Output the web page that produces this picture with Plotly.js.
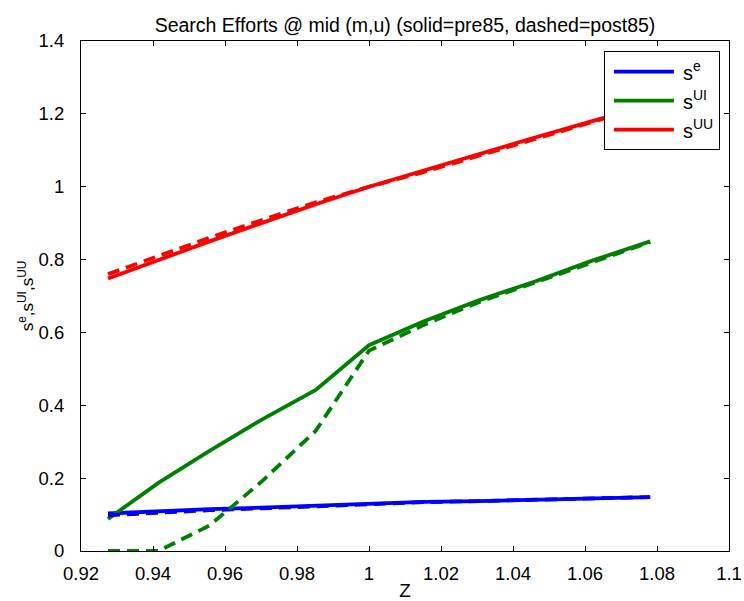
<!DOCTYPE html>
<html>
<head>
<meta charset="utf-8">
<script src="https://cdn.plot.ly/plotly-3.0.1.min.js"></script>
<style>html,body{margin:0;padding:0;background:#fff}#chart{width:744px;height:601px}</style>
</head>
<body>
<div id="chart"></div>
<script>
const z = [0.9275, 0.9415, 0.9557, 0.9701, 0.9852, 1.0, 1.0151, 1.0305, 1.0461, 1.0620, 1.0781];

const sePre   = [0.103, 0.110, 0.115, 0.119, 0.124, 0.131, 0.135, 0.137, 0.140, 0.144, 0.148];
const sePost  = [0.098, 0.106, 0.112, 0.117, 0.123, 0.130, 0.134, 0.137, 0.140, 0.144, 0.148];
const suiPre  = [0.088, 0.187, 0.275, 0.360, 0.442, 0.565, 0.630, 0.688, 0.740, 0.797, 0.850];
const suiPost = [0.000, 0.000, 0.070, 0.190, 0.330, 0.550, 0.620, 0.683, 0.737, 0.793, 0.848];
const suuPre  = [0.748, 0.800, 0.850, 0.900, 0.952, 1.000, 1.045, 1.090, 1.135, 1.180, 1.225];
const suuPost = [0.760, 0.810, 0.860, 0.908, 0.957, 1.000, 1.040, 1.085, 1.130, 1.178, 1.225];

const names = ['s<sup>e</sup>', 's<sup>UI</sup>', 's<sup>UU</sup>'];
const colors = ['#0000ff', '#008000', '#ff0000'];
const xTickText = ['0.92', '0.94', '0.96', '0.98', '1', '1.02', '1.04', '1.06', '1.08', '1.1'];
const yTickText = ['0', '0.2', '0.4', '0.6', '0.8', '1', '1.2', '1.4'];

const pre = [sePre, suiPre, suuPre];
const post = [sePost, suiPost, suuPost];
const traces = [];
for (let i = 0; i < 3; i++) {
  traces.push({x: z, y: pre[i], mode: 'lines', name: names[i],
    line: {color: colors[i], width: 3.8}, showlegend: true, hoverinfo: 'skip'});
}
for (let i = 0; i < 3; i++) {
  traces.push({x: z, y: post[i], mode: 'lines', name: names[i] + ' post',
    line: {color: colors[i], width: 3.8, dash: '12px,7px'}, showlegend: false, hoverinfo: 'skip'});
}

const font = 'Arial, "Liberation Sans", Helvetica, sans-serif';
const axisCommon = {
  showgrid: false, zeroline: false, showline: true, linecolor: '#000', linewidth: 1,
  mirror: 'ticks', ticks: 'inside', ticklen: 5, tickcolor: '#000', tickwidth: 1,
  tickfont: {family: font, size: 18.5, color: '#000'}, tickmode: 'array'
};
const layout = {
  width: 744, height: 601,
  margin: {l: 81, r: 15, t: 41, b: 50, pad: 0},
  paper_bgcolor: '#fff', plot_bgcolor: '#fff',
  font: {family: font, color: '#000'},
  title: {text: 'Search Efforts @ mid (m,u) (solid=pre85, dashed=post85)',
    font: {family: font, size: 19.5, color: '#000'}, x: 0.5, xref: 'paper', xanchor: 'center',
    y: 0.97, yref: 'container'},
  xaxis: Object.assign({}, axisCommon, {range: [0.92, 1.1], tickvals: xTickText.map(Number), ticktext: xTickText,
    ticklabelstandoff: 6,
    title: {text: 'Z', font: {family: font, size: 19, color: '#000'}, standoff: 2}}),
  yaxis: Object.assign({}, axisCommon, {range: [0, 1.4], tickvals: yTickText.map(Number), ticktext: yTickText,
    ticklabelstandoff: 12,
    title: {text: 's<sup>e</sup>,s<sup>UI</sup>,s<sup>UU</sup>', font: {family: font, size: 17, color: '#000'}, standoff: 0}}),
  showlegend: true,
  legend: {x: 0.986, y: 0.98, xanchor: 'right', yanchor: 'top', bgcolor: '#fff',
    bordercolor: '#000', borderwidth: 1, font: {family: font, size: 20, color: '#000'},
    itemwidth: 68, tracegroupgap: 0}
};
Plotly.newPlot('chart', traces, layout, {staticPlot: true}).then(function () {
  document.querySelectorAll('.legendlines path').forEach(function (p) {
    p.setAttribute('d', 'M9,0h60');
  });
});
</script>
</body>
</html>
